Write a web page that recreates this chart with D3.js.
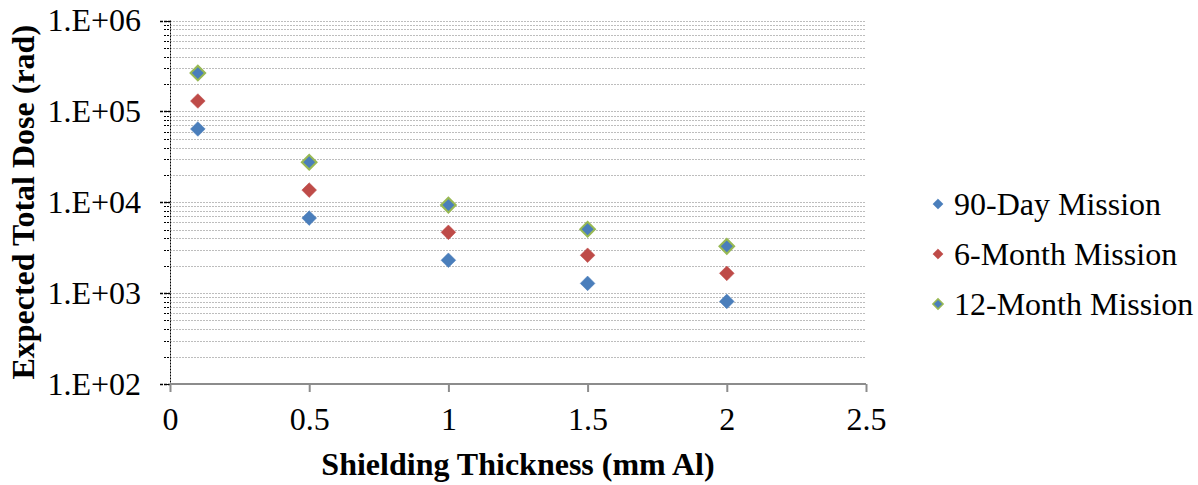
<!DOCTYPE html>
<html>
<head>
<meta charset="utf-8">
<script src="https://cdn.jsdelivr.net/npm/d3@7"></script>
<style>
  body { margin: 0; background: #fff; }
  text { font-family: "Liberation Serif", "Times New Roman", serif; fill: #000; }
</style>
</head>
<body>
<svg id="chart" width="1198" height="485"></svg>
<script>
// data
var thickness = [0.1, 0.5, 1, 1.5, 2];
var dose90Day = [64000, 6700, 2300, 1280, 810];
var dose6Month = [130000, 13600, 4670, 2610, 1650];
var dose12Month = [264000, 27600, 9300, 5050, 3270];
var seriesNames = ["90-Day Mission", "6-Month Mission", "12-Month Mission"];
var xTicks = [0, 0.5, 1, 1.5, 2, 2.5];
var yTicks = [1e2, 1e3, 1e4, 1e5, 1e6];

var svg = d3.select("#chart");

var x = d3.scaleLinear().domain([0, 2.5]).range([170, 866]);
var y = d3.scaleLog().domain([1e2, 1e6]).range([384, 20.5]);

var series = [
    { name: seriesNames[0], values: dose90Day, fill: "#4a7ebb", stroke: "#4a7ebb" },
    { name: seriesNames[1], values: dose6Month, fill: "#be4b48", stroke: "#be4b48" },
    { name: seriesNames[2], values: dose12Month, fill: "#4a7ebb", stroke: "#98b954" }
];

// minor gridlines at 1..9 x 10^k
var minorVals = [];
for (var k = 2; k < 6; k++) {
    for (var m = 1; m < 10; m++) minorVals.push(m * Math.pow(10, k));
}
minorVals.push(1e6);

var grid = svg.append("g");
grid.selectAll("line")
    .data(minorVals.filter(function (v) { return v > 1e2; }))
    .enter()
    .append("line")
    .attr("x1", x(0))
    .attr("x2", x(2.5))
    .attr("y1", function (d) { return Math.round(y(d)) + 0.5; })
    .attr("y2", function (d) { return Math.round(y(d)) + 0.5; })
    .attr("stroke", "#bdbdbd")
    .attr("stroke-width", 1)
    .attr("stroke-dasharray", "2,1");

// y axis: dotted black line with ticks
var yAxisG = svg.append("g");
yAxisG.append("line")
    .attr("x1", 170.5).attr("x2", 170.5)
    .attr("y1", y(1e6)).attr("y2", y(1e2))
    .attr("stroke", "#000")
    .attr("stroke-dasharray", "2,1");

yAxisG.selectAll(".minor")
    .data(minorVals)
    .enter()
    .append("line")
    .attr("x1", 164).attr("x2", 170)
    .attr("y1", function (d) { return Math.round(y(d)) + 0.5; })
    .attr("y2", function (d) { return Math.round(y(d)) + 0.5; })
    .attr("stroke", "#000")
    .attr("stroke-dasharray", "2,1");

yAxisG.selectAll(".major")
    .data(yTicks)
    .enter()
    .append("line")
    .attr("x1", 160).attr("x2", 170)
    .attr("y1", function (d) { return Math.round(y(d)) + 0.5; })
    .attr("y2", function (d) { return Math.round(y(d)) + 0.5; })
    .attr("stroke", "#000")
    .attr("stroke-width", 1.5)
    .attr("stroke-dasharray", "3,1");

yAxisG.selectAll("text")
    .data(yTicks)
    .enter()
    .append("text")
    .attr("x", 141)
    .attr("y", function (d) { return y(d); })
    .attr("dy", "0.34em")
    .attr("text-anchor", "end")
    .attr("font-size", "32px")
    .text(function (d) { return "1.E+" + d3.format("02d")(Math.round(Math.log10(d))); });

// x axis: gray solid
var xAxis = d3.axisBottom(x)
    .tickValues(xTicks)
    .tickSize(8)
    .tickPadding(15)
    .tickFormat(function (d) { return String(d); });

var xAxisG = svg.append("g")
    .attr("transform", "translate(0,384)")
    .call(xAxis);
xAxisG.select(".domain").attr("stroke", "#8c8c8c").attr("stroke-width", 2)
    .attr("d", "M" + x(0) + ",0H" + x(2.5));
xAxisG.selectAll(".tick line").attr("stroke", "#8c8c8c").attr("stroke-width", 2);
xAxisG.selectAll(".tick text")
    .attr("font-size", "32px")
    .attr("fill", "#000");

// axis titles
svg.append("text")
    .attr("x", (x(0) + x(2.5)) / 2)
    .attr("y", 475)
    .attr("text-anchor", "middle")
    .attr("font-size", "32px")
    .attr("font-weight", "bold")
    .text("Shielding Thickness (mm Al)");

svg.append("text")
    .attr("transform", "translate(34," + ((y(1e6) + y(1e2)) / 2) + ") rotate(-90)")
    .attr("text-anchor", "middle")
    .attr("font-size", "32px")
    .attr("font-weight", "bold")
    .text("Expected Total Dose (rad)");

// markers
var diamond = d3.symbol().type(d3.symbolSquare).size(108);
var smallDiamond = d3.symbol().type(d3.symbolSquare).size(52);

series.forEach(function (s) {
    svg.append("g")
        .selectAll("path")
        .data(s.values)
        .enter()
        .append("path")
        .attr("d", diamond)
        .attr("transform", function (d, i) {
            return "translate(" + x(thickness[i]) + "," + y(d) + ") rotate(45)";
        })
        .attr("fill", s.fill)
        .attr("stroke", s.stroke)
        .attr("stroke-width", s.fill === s.stroke ? 0.5 : 2);
});

// legend
var legend = svg.append("g");
var legendRows = legend.selectAll("g")
    .data(series)
    .enter()
    .append("g")
    .attr("transform", function (d, i) { return "translate(938," + (204 + i * 50) + ")"; });

legendRows.append("path")
    .attr("d", smallDiamond)
    .attr("transform", "rotate(45)")
    .attr("fill", function (d) { return d.fill; })
    .attr("stroke", function (d) { return d.stroke; })
    .attr("stroke-width", function (d) { return d.fill === d.stroke ? 0.5 : 1.5; });

legendRows.append("text")
    .attr("x", 16)
    .attr("dy", "0.34em")
    .attr("font-size", "32px")
    .text(function (d) { return d.name; });
</script>
</body>
</html>
